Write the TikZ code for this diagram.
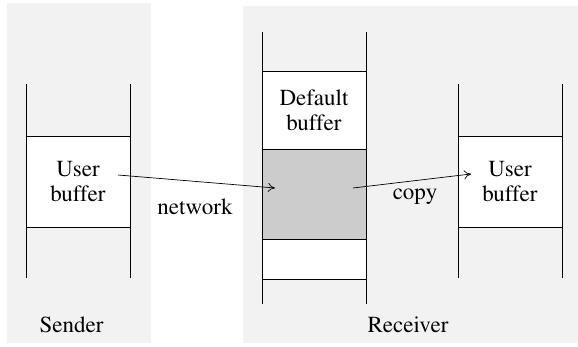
\documentclass[tikz,border=0pt]{standalone}
\usepackage[T1]{fontenc}
\usepackage{mathptmx}
\usetikzlibrary{arrows.meta}

\begin{document}
\begin{tikzpicture}[x=1pt,y=-1pt,>={To[length=7pt,width=9pt]},
    panel/.style={fill=black!5,draw=none},
    buf node/.style={draw,line width=0.7pt,fill=white,minimum width=104pt,inner sep=0pt,align=center,font=\fontsize{23}{25}\selectfont},
    label node/.style={font=\fontsize{23}{25}\selectfont,inner sep=0pt},
    wall/.style={draw,line width=0.7pt}]
                \useasboundingbox (0,0) rectangle (578,347);
                % backgrounds
                \fill[panel] (7,3) rectangle (151,343);
                \fill[panel] (243,6) rectangle (578,343);

                % sender stack
                \node[buf node,minimum height=91pt] (sbuf) at (78,181.5) {User\\buffer};
                \draw[wall] (26,84) -- (26,278) (130,84) -- (130,278);

                % receiver stack
                \node[buf node,minimum height=78pt] (dbuf) at (314,110) {Default\\buffer};
                \node[buf node,minimum height=90pt,fill=black!20] (gbuf) at (314,194) {};
                \node[buf node,minimum height=40pt] (ebuf) at (314,259) {};
                \draw[wall] (262,32) -- (262,304) (366,32) -- (366,304);

                \node[buf node,minimum height=91pt] (rbuf) at (510,181.5) {User\\buffer};
                \draw[wall] (458,84) -- (458,278) (562,84) -- (562,278);

                % labels
                \node[label node,anchor=base] (send) at (71.5,332) {Sender};
                \node[label node,anchor=base] (recv) at (408,332) {Receiver};
                \node[label node,anchor=base] (net) at (195,215) {network};
                \node[label node,anchor=base] (cp) at (415,200) {copy};

                % transfers
                \coordinate (n1) at (118,175);
                \coordinate (n2) at (275,188);
                \coordinate (c1) at (353,188);
                \coordinate (c2) at (471,174);
                \path[->,line width=0.7pt]
                    (n1) edge (n2)
                    (c1) edge (c2)
                ;
            \end{tikzpicture}
\end{document}
